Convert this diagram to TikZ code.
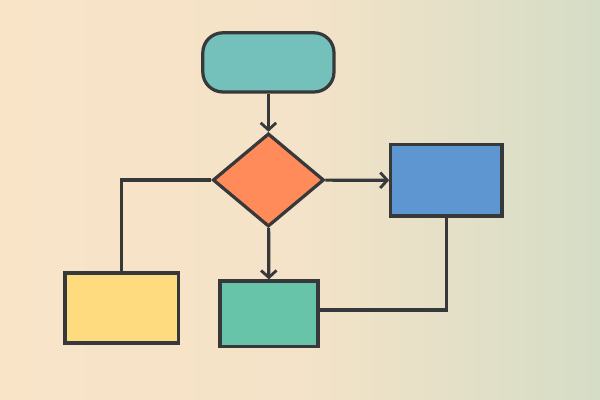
\documentclass[tikz,border=0pt]{standalone}
\usetikzlibrary{shapes.geometric,arrows.meta}
\definecolor{bgleft}{HTML}{F9E4C8}
\definecolor{bgright}{HTML}{D5DDC6}
\definecolor{edge}{HTML}{363839}
\definecolor{startfill}{HTML}{74C1BC}
\definecolor{decfill}{HTML}{FF8A5A}
\definecolor{yesfill}{HTML}{5E96D2}
\definecolor{nofill}{HTML}{FFDB80}
\definecolor{midfill}{HTML}{68C4A9}
\begin{document}
\begin{tikzpicture}[box/.style={draw=edge,line width=2.3pt,inner sep=0pt},
    link/.style={draw=edge,line width=2.3pt},
    arr/.style={link,-{Straight Barb[length=5pt,width=11pt,line width=2pt]}}]

    % the background
    \shade[left color=bgleft,right color=bgright,middle color=bgleft!85!bgright]
    (0,0) rectangle (15,10);

    % the shapes
    \node[box,fill=startfill,rounded corners=0.5cm,minimum width=3.28cm,
      minimum height=1.48cm] (start) at (6.71,8.44) {};
    \node[box,fill=decfill,diamond,minimum width=2.78cm,minimum
      height=2.33cm] (check) at (6.71,5.5) {};
    \node[box,fill=yesfill,minimum width=2.78cm,minimum height=1.78cm]
    (right) at (11.16,5.49) {};
    \node[box,fill=nofill,minimum width=2.83cm,minimum height=1.75cm]
    (left) at (3.04,2.3) {};
    \node[box,fill=midfill,minimum width=2.45cm,minimum height=1.63cm]
    (mid) at (6.725,2.16) {};
    \coordinate (turn) at (11.16,2.25);

    % the connectors
    \draw[arr] (start) -- (check);
    \draw[arr] (check) -- (mid);
    \draw[arr] (check) -- (right);
    \draw[link] (check.west) -| (left.north);
    \draw[link] (right.south) -- (turn) -- (mid.east |- turn);
\end{tikzpicture}
\end{document}
